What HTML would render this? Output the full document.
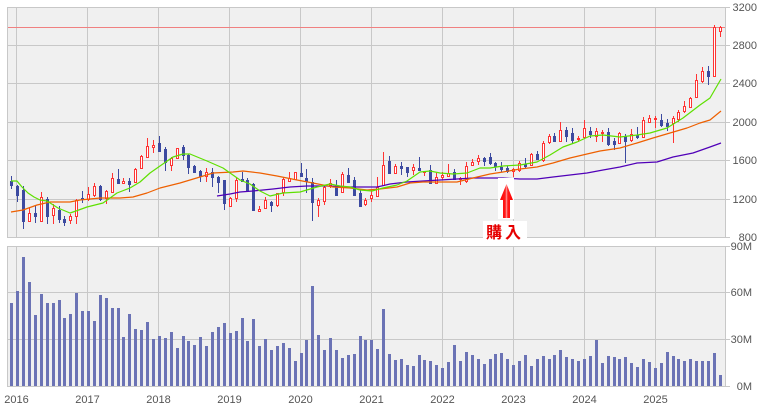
<!DOCTYPE html>
<html><head><meta charset="utf-8"><style>
html,body{margin:0;padding:0;background:#fff;}
svg{display:block;}
text{font-family:"Liberation Sans","Noto Sans CJK JP",sans-serif;}
</style></head><body>
<svg width="764" height="407" viewBox="0 0 764 407" xmlns="http://www.w3.org/2000/svg">
<defs>
<linearGradient id="ag" x1="0" x2="1" y1="0" y2="0">
<stop offset="0" stop-color="#ff0000"/><stop offset="0.4" stop-color="#ff1a1a"/><stop offset="0.5" stop-color="#ff9a9a"/><stop offset="0.6" stop-color="#ff1a1a"/><stop offset="1" stop-color="#ff0000"/>
</linearGradient>
</defs>
<rect x="7" y="7" width="718" height="230" fill="#f0f0f0"/>
<g fill="#c8c8c8" shape-rendering="crispEdges">
<rect x="7" y="45" width="718" height="1"/><rect x="7" y="83" width="718" height="1"/><rect x="7" y="122" width="718" height="1"/><rect x="7" y="160" width="718" height="1"/><rect x="7" y="199" width="718" height="1"/>
<rect x="16" y="7" width="1" height="230"/><rect x="87" y="7" width="1" height="230"/><rect x="158" y="7" width="1" height="230"/><rect x="229" y="7" width="1" height="230"/><rect x="300" y="7" width="1" height="230"/><rect x="371" y="7" width="1" height="230"/><rect x="442" y="7" width="1" height="230"/><rect x="513" y="7" width="1" height="230"/><rect x="584" y="7" width="1" height="230"/><rect x="655" y="7" width="1" height="230"/>
<rect x="725" y="7" width="5" height="1"/><rect x="725" y="45" width="5" height="1"/><rect x="725" y="83" width="5" height="1"/><rect x="725" y="122" width="5" height="1"/><rect x="725" y="160" width="5" height="1"/><rect x="725" y="199" width="5" height="1"/><rect x="725" y="237" width="5" height="1"/>
</g>
<rect x="7.5" y="7.5" width="718" height="230" fill="none" stroke="#c8c8c8" stroke-width="1"/>
<rect x="8" y="27" width="717" height="1" fill="#f08080"/>
<g fill="#3c4aa0" shape-rendering="crispEdges">
<rect x="11" y="176" width="1" height="13"/><rect x="10" y="181" width="3" height="5"/>
<rect x="17" y="185" width="1" height="17"/><rect x="16" y="186" width="3" height="10"/>
<rect x="23" y="186" width="1" height="43"/><rect x="22" y="190" width="3" height="32"/>
<rect x="35" y="206" width="1" height="17"/><rect x="34" y="213" width="3" height="4"/>
<rect x="47" y="197" width="1" height="27"/><rect x="46" y="199" width="3" height="18"/>
<rect x="59" y="206" width="1" height="17"/><rect x="58" y="210" width="3" height="10"/>
<rect x="64" y="216" width="1" height="10"/><rect x="63" y="219" width="3" height="4"/>
<rect x="82" y="191" width="1" height="12"/><rect x="81" y="198" width="3" height="2"/>
<rect x="100" y="185" width="1" height="16"/><rect x="99" y="186" width="3" height="14"/>
<rect x="118" y="169" width="1" height="15"/><rect x="117" y="179" width="3" height="5"/>
<rect x="129" y="178" width="1" height="14"/><rect x="128" y="181" width="3" height="4"/>
<rect x="159" y="136" width="1" height="16"/><rect x="158" y="143" width="3" height="9"/>
<rect x="165" y="147" width="1" height="24"/><rect x="164" y="149" width="3" height="14"/>
<rect x="183" y="145" width="1" height="15"/><rect x="182" y="147" width="3" height="9"/>
<rect x="188" y="154" width="1" height="20"/><rect x="187" y="155" width="3" height="13"/>
<rect x="194" y="165" width="1" height="8"/><rect x="193" y="166" width="3" height="7"/>
<rect x="200" y="170" width="1" height="12"/><rect x="199" y="171" width="3" height="6"/>
<rect x="212" y="168" width="1" height="19"/><rect x="211" y="172" width="3" height="6"/>
<rect x="218" y="176" width="1" height="17"/><rect x="217" y="177" width="3" height="6"/>
<rect x="224" y="180" width="1" height="30"/><rect x="223" y="180" width="3" height="24"/>
<rect x="242" y="172" width="1" height="10"/><rect x="241" y="179" width="3" height="3"/>
<rect x="247" y="178" width="1" height="13"/><rect x="246" y="180" width="3" height="11"/>
<rect x="253" y="183" width="1" height="28"/><rect x="252" y="184" width="3" height="27"/>
<rect x="271" y="201" width="1" height="11"/><rect x="270" y="202" width="3" height="4"/>
<rect x="301" y="163" width="1" height="14"/><rect x="300" y="173" width="3" height="4"/>
<rect x="306" y="169" width="1" height="24"/><rect x="305" y="178" width="3" height="4"/>
<rect x="312" y="178" width="1" height="43"/><rect x="311" y="182" width="3" height="21"/>
<rect x="336" y="180" width="1" height="16"/><rect x="335" y="185" width="3" height="11"/>
<rect x="348" y="168" width="1" height="15"/><rect x="347" y="175" width="3" height="8"/>
<rect x="354" y="177" width="1" height="19"/><rect x="353" y="180" width="3" height="16"/>
<rect x="360" y="190" width="1" height="17"/><rect x="359" y="193" width="3" height="14"/>
<rect x="389" y="156" width="1" height="18"/><rect x="388" y="161" width="3" height="13"/>
<rect x="401" y="162" width="1" height="13"/><rect x="400" y="166" width="3" height="3"/>
<rect x="407" y="167" width="1" height="10"/><rect x="406" y="167" width="3" height="6"/>
<rect x="419" y="157" width="1" height="14"/><rect x="418" y="168" width="3" height="3"/>
<rect x="430" y="165" width="1" height="19"/><rect x="429" y="170" width="3" height="14"/>
<rect x="454" y="169" width="1" height="11"/><rect x="453" y="172" width="3" height="8"/>
<rect x="484" y="157" width="1" height="9"/><rect x="483" y="158" width="3" height="4"/>
<rect x="490" y="153" width="1" height="12"/><rect x="489" y="157" width="3" height="7"/>
<rect x="495" y="162" width="1" height="9"/><rect x="494" y="163" width="3" height="4"/>
<rect x="501" y="162" width="1" height="10"/><rect x="500" y="167" width="3" height="3"/>
<rect x="507" y="166" width="1" height="7"/><rect x="506" y="168" width="3" height="4"/>
<rect x="525" y="158" width="1" height="10"/><rect x="524" y="164" width="3" height="3"/>
<rect x="537" y="151" width="1" height="9"/><rect x="536" y="154" width="3" height="6"/>
<rect x="554" y="133" width="1" height="9"/><rect x="553" y="136" width="3" height="6"/>
<rect x="566" y="127" width="1" height="15"/><rect x="565" y="130" width="3" height="7"/>
<rect x="572" y="128" width="1" height="16"/><rect x="571" y="133" width="3" height="8"/>
<rect x="590" y="127" width="1" height="11"/><rect x="589" y="131" width="3" height="4"/>
<rect x="608" y="128" width="1" height="18"/><rect x="607" y="132" width="3" height="13"/>
<rect x="614" y="138" width="1" height="12"/><rect x="613" y="141" width="3" height="4"/>
<rect x="625" y="134" width="1" height="29"/><rect x="624" y="136" width="3" height="6"/>
<rect x="637" y="127" width="1" height="12"/><rect x="636" y="135" width="3" height="3"/>
<rect x="661" y="114" width="1" height="13"/><rect x="660" y="120" width="3" height="6"/>
<rect x="667" y="119" width="1" height="12"/><rect x="666" y="123" width="3" height="4"/>
<rect x="708" y="66" width="1" height="19"/><rect x="707" y="71" width="3" height="6"/>
</g>
<g fill="#ff3333" shape-rendering="crispEdges">
<rect x="29" y="207" width="1" height="15"/><rect x="41" y="192" width="1" height="30"/><rect x="53" y="204" width="1" height="20"/><rect x="70" y="214" width="1" height="10"/><rect x="76" y="199" width="1" height="25"/><rect x="88" y="187" width="1" height="14"/><rect x="94" y="183" width="1" height="14"/><rect x="106" y="190" width="1" height="14"/><rect x="112" y="173" width="1" height="20"/><rect x="123" y="178" width="1" height="6"/><rect x="135" y="168" width="1" height="15"/><rect x="141" y="155" width="1" height="14"/><rect x="147" y="138" width="1" height="20"/><rect x="153" y="140" width="1" height="13"/><rect x="171" y="157" width="1" height="14"/><rect x="177" y="148" width="1" height="11"/><rect x="206" y="168" width="1" height="14"/><rect x="230" y="197" width="1" height="10"/><rect x="236" y="178" width="1" height="24"/><rect x="259" y="206" width="1" height="6"/><rect x="265" y="197" width="1" height="12"/><rect x="277" y="193" width="1" height="14"/><rect x="283" y="177" width="1" height="19"/><rect x="289" y="172" width="1" height="10"/><rect x="295" y="172" width="1" height="8"/><rect x="318" y="198" width="1" height="19"/><rect x="324" y="186" width="1" height="19"/><rect x="330" y="179" width="1" height="9"/><rect x="342" y="172" width="1" height="21"/><rect x="365" y="198" width="1" height="8"/><rect x="371" y="190" width="1" height="12"/><rect x="377" y="177" width="1" height="20"/><rect x="383" y="152" width="1" height="34"/><rect x="395" y="164" width="1" height="10"/><rect x="413" y="164" width="1" height="11"/><rect x="424" y="171" width="1" height="5"/><rect x="436" y="173" width="1" height="11"/><rect x="442" y="172" width="1" height="8"/><rect x="448" y="164" width="1" height="13"/><rect x="460" y="177" width="1" height="8"/><rect x="466" y="162" width="1" height="21"/><rect x="472" y="159" width="1" height="7"/><rect x="478" y="155" width="1" height="10"/><rect x="513" y="168" width="1" height="9"/><rect x="519" y="161" width="1" height="11"/><rect x="531" y="153" width="1" height="13"/><rect x="543" y="141" width="1" height="21"/><rect x="549" y="134" width="1" height="10"/><rect x="560" y="122" width="1" height="20"/><rect x="578" y="136" width="1" height="6"/><rect x="584" y="120" width="1" height="19"/><rect x="596" y="128" width="1" height="14"/><rect x="602" y="130" width="1" height="12"/><rect x="619" y="132" width="1" height="12"/><rect x="631" y="129" width="1" height="13"/><rect x="643" y="117" width="1" height="21"/><rect x="649" y="115" width="1" height="8"/><rect x="655" y="116" width="1" height="12"/><rect x="673" y="116" width="1" height="27"/><rect x="678" y="110" width="1" height="12"/><rect x="684" y="101" width="1" height="12"/><rect x="690" y="97" width="1" height="11"/><rect x="696" y="74" width="1" height="24"/><rect x="702" y="67" width="1" height="16"/><rect x="714" y="25" width="1" height="52"/><rect x="720" y="26" width="1" height="11"/>
</g>
<g fill="#ffffff" stroke="#ff3333" stroke-width="1">
<rect x="28.5" y="213.5" width="2" height="8"/><rect x="40.5" y="197.5" width="2" height="24"/><rect x="52.5" y="208.5" width="2" height="7"/><rect x="69.5" y="216.5" width="2" height="4"/><rect x="75.5" y="200.5" width="2" height="16"/><rect x="87.5" y="194.5" width="2" height="5"/><rect x="93.5" y="186.5" width="2" height="9"/><rect x="105.5" y="191.5" width="2" height="7"/><rect x="111.5" y="178.5" width="2" height="14"/><rect x="122.5" y="181.5" width="2" height="2"/><rect x="134.5" y="169.5" width="2" height="13"/><rect x="140.5" y="156.5" width="2" height="12"/><rect x="146.5" y="146.5" width="2" height="11"/><rect x="152.5" y="145.5" width="2" height="2"/><rect x="170.5" y="158.5" width="2" height="7"/><rect x="176.5" y="148.5" width="2" height="10"/><rect x="205.5" y="172.5" width="2" height="4"/><rect x="229.5" y="198.5" width="2" height="8"/><rect x="235.5" y="180.5" width="2" height="18"/><rect x="258.5" y="209.5" width="2" height="2"/><rect x="264.5" y="200.5" width="2" height="8"/><rect x="276.5" y="193.5" width="2" height="12"/><rect x="282.5" y="179.5" width="2" height="13"/><rect x="288.5" y="178.5" width="2" height="3"/><rect x="294.5" y="172.5" width="2" height="7"/><rect x="317.5" y="200.5" width="2" height="5"/><rect x="323.5" y="187.5" width="2" height="14"/><rect x="329.5" y="183.5" width="2" height="2"/><rect x="341.5" y="174.5" width="2" height="18"/><rect x="364.5" y="200.5" width="2" height="4"/><rect x="370.5" y="195.5" width="2" height="3"/><rect x="376.5" y="187.5" width="2" height="9"/><rect x="382.5" y="165.5" width="2" height="20"/><rect x="394.5" y="166.5" width="2" height="7"/><rect x="412.5" y="167.5" width="2" height="3"/><rect x="423.5" y="171.5" width="2" height="1"/><rect x="435.5" y="177.5" width="2" height="6"/><rect x="441.5" y="175.5" width="2" height="2"/><rect x="447.5" y="173.5" width="2" height="3"/><rect x="459.5" y="178.5" width="2" height="1"/><rect x="465.5" y="166.5" width="2" height="15"/><rect x="471.5" y="162.5" width="2" height="3"/><rect x="477.5" y="158.5" width="2" height="3"/><rect x="512.5" y="169.5" width="2" height="2"/><rect x="518.5" y="163.5" width="2" height="7"/><rect x="530.5" y="154.5" width="2" height="11"/><rect x="542.5" y="143.5" width="2" height="17"/><rect x="548.5" y="136.5" width="2" height="6"/><rect x="559.5" y="130.5" width="2" height="11"/><rect x="577.5" y="138.5" width="2" height="1"/><rect x="583.5" y="128.5" width="2" height="9"/><rect x="595.5" y="131.5" width="2" height="5"/><rect x="601.5" y="132.5" width="2" height="1"/><rect x="618.5" y="133.5" width="2" height="10"/><rect x="630.5" y="134.5" width="2" height="6"/><rect x="642.5" y="120.5" width="2" height="17"/><rect x="648.5" y="118.5" width="2" height="4"/><rect x="654.5" y="118.5" width="2" height="1"/><rect x="672.5" y="118.5" width="2" height="5"/><rect x="677.5" y="112.5" width="2" height="7"/><rect x="683.5" y="106.5" width="2" height="5"/><rect x="689.5" y="98.5" width="2" height="9"/><rect x="695.5" y="80.5" width="2" height="17"/><rect x="701.5" y="71.5" width="2" height="10"/><rect x="713.5" y="27.5" width="2" height="49"/><rect x="719.5" y="27.5" width="2" height="4"/>
</g>
<g fill="none" stroke-width="1.2" stroke-linejoin="round">
<polyline stroke="#5000b8" points="217,196 230,194 240,192 253,191 273,189 290,187 307,186 327,186 347,187 363,187 377,187 390,184 407,182 423,181 440,180 457,179 473,178 503,178 520,179 537,179 553,177 570,175 587,173 603,170 620,167 637,163 657,162 673,157 693,153 710,147 721,143"/>
<polyline stroke="#ee6000" points="11,212 23,210 37,205 50,202 70,202 80,200 100,198 120,198 133,197 147,193 160,188 180,183 200,177 213,173 233,172 243,171 260,173 277,176 297,180 313,183 333,187 350,188 367,190 380,189 397,187 410,183 423,182 457,182 473,178 490,174 503,172 520,169 537,167 553,163 570,158 587,154 600,151 620,148 637,143 653,138 670,133 687,128 700,123 710,120 721,111"/>
<polyline stroke="#5ee000" points="11,181 17,181 22,187 28,193 34,197 40,200 47,201 58,208 70,213 76,211 87,207 103,203 117,193 130,188 140,182 150,173 160,166 173,157 183,154 190,154 207,161 223,168 240,180 250,184 260,191 270,196 283,193 300,192 317,187 330,184 340,186 350,187 360,190 372,191 383,188 397,185 407,181 420,172 430,171 440,173 453,174 467,173 480,168 490,168 503,166 520,165 537,162 550,155 563,147 577,142 590,136 603,135 620,137 637,135 650,133 667,128 683,118 700,105 710,98 721,79"/>
</g>
<rect x="498" y="178" width="16" height="41" fill="#ffffff"/>
<polygon points="506.5,184 500,200 503,200 503,218 510,218 510,200 513,200" fill="url(#ag)"/>
<rect x="483" y="221" width="44" height="19" fill="#ffffff"/>
<text x="505" y="238" text-anchor="middle" font-size="16" font-weight="bold" fill="#e60000" letter-spacing="3">購入</text>
<g font-size="11" fill="#555" text-anchor="end">
<text x="757" y="11">3200</text><text x="757" y="49">2800</text><text x="757" y="87">2400</text><text x="757" y="126">2000</text><text x="757" y="164">1600</text><text x="757" y="203">1200</text><text x="757" y="241">800</text>
</g>
<rect x="7" y="246" width="718" height="140" fill="#f0f0f0"/>
<g fill="#c8c8c8" shape-rendering="crispEdges">
<rect x="7" y="292" width="718" height="1"/><rect x="7" y="339" width="718" height="1"/>
<rect x="16" y="246" width="1" height="140"/><rect x="87" y="246" width="1" height="140"/><rect x="158" y="246" width="1" height="140"/><rect x="229" y="246" width="1" height="140"/><rect x="300" y="246" width="1" height="140"/><rect x="371" y="246" width="1" height="140"/><rect x="442" y="246" width="1" height="140"/><rect x="513" y="246" width="1" height="140"/><rect x="584" y="246" width="1" height="140"/><rect x="655" y="246" width="1" height="140"/>
<rect x="725" y="246" width="5" height="1"/><rect x="725" y="292" width="5" height="1"/><rect x="725" y="339" width="5" height="1"/><rect x="725" y="386" width="5" height="1"/>
</g>
<g fill="#6b73b5" shape-rendering="crispEdges">
<rect x="10" y="303" width="3" height="83"/><rect x="16" y="291" width="3" height="95"/><rect x="22" y="257" width="3" height="129"/><rect x="28" y="282" width="3" height="104"/><rect x="34" y="315" width="3" height="71"/><rect x="40" y="294" width="3" height="92"/><rect x="46" y="303" width="3" height="83"/><rect x="52" y="303" width="3" height="83"/><rect x="58" y="300" width="3" height="86"/><rect x="63" y="318" width="3" height="68"/><rect x="69" y="314" width="3" height="72"/><rect x="75" y="293" width="3" height="93"/><rect x="81" y="311" width="3" height="75"/><rect x="87" y="311" width="3" height="75"/><rect x="93" y="321" width="3" height="65"/><rect x="99" y="295" width="3" height="91"/><rect x="105" y="298" width="3" height="88"/><rect x="111" y="308" width="3" height="78"/><rect x="117" y="308" width="3" height="78"/><rect x="122" y="337" width="3" height="49"/><rect x="128" y="314" width="3" height="72"/><rect x="134" y="329" width="3" height="57"/><rect x="140" y="330" width="3" height="56"/><rect x="146" y="322" width="3" height="64"/><rect x="152" y="339" width="3" height="47"/><rect x="158" y="336" width="3" height="50"/><rect x="164" y="338" width="3" height="48"/><rect x="170" y="332" width="3" height="54"/><rect x="176" y="348" width="3" height="38"/><rect x="182" y="336" width="3" height="50"/><rect x="187" y="341" width="3" height="45"/><rect x="193" y="345" width="3" height="41"/><rect x="199" y="337" width="3" height="49"/><rect x="205" y="346" width="3" height="40"/><rect x="211" y="332" width="3" height="54"/><rect x="217" y="327" width="3" height="59"/><rect x="223" y="323" width="3" height="63"/><rect x="229" y="333" width="3" height="53"/><rect x="235" y="331" width="3" height="55"/><rect x="241" y="318" width="3" height="68"/><rect x="246" y="341" width="3" height="45"/><rect x="252" y="319" width="3" height="67"/><rect x="258" y="346" width="3" height="40"/><rect x="264" y="339" width="3" height="47"/><rect x="270" y="350" width="3" height="36"/><rect x="276" y="346" width="3" height="40"/><rect x="282" y="343" width="3" height="43"/><rect x="288" y="348" width="3" height="38"/><rect x="294" y="361" width="3" height="25"/><rect x="300" y="353" width="3" height="33"/><rect x="305" y="340" width="3" height="46"/><rect x="311" y="286" width="3" height="100"/><rect x="317" y="335" width="3" height="51"/><rect x="323" y="350" width="3" height="36"/><rect x="329" y="338" width="3" height="48"/><rect x="335" y="350" width="3" height="36"/><rect x="341" y="358" width="3" height="28"/><rect x="347" y="355" width="3" height="31"/><rect x="353" y="354" width="3" height="32"/><rect x="359" y="336" width="3" height="50"/><rect x="364" y="340" width="3" height="46"/><rect x="370" y="340" width="3" height="46"/><rect x="376" y="349" width="3" height="37"/><rect x="382" y="309" width="3" height="77"/><rect x="388" y="354" width="3" height="32"/><rect x="394" y="360" width="3" height="26"/><rect x="400" y="359" width="3" height="27"/><rect x="406" y="365" width="3" height="21"/><rect x="412" y="366" width="3" height="20"/><rect x="418" y="355" width="3" height="31"/><rect x="423" y="360" width="3" height="26"/><rect x="429" y="361" width="3" height="25"/><rect x="435" y="365" width="3" height="21"/><rect x="441" y="368" width="3" height="18"/><rect x="447" y="362" width="3" height="24"/><rect x="453" y="345" width="3" height="41"/><rect x="459" y="361" width="3" height="25"/><rect x="465" y="352" width="3" height="34"/><rect x="471" y="355" width="3" height="31"/><rect x="477" y="359" width="3" height="27"/><rect x="483" y="364" width="3" height="22"/><rect x="489" y="359" width="3" height="27"/><rect x="494" y="354" width="3" height="32"/><rect x="500" y="353" width="3" height="33"/><rect x="506" y="359" width="3" height="27"/><rect x="512" y="365" width="3" height="21"/><rect x="518" y="361" width="3" height="25"/><rect x="524" y="355" width="3" height="31"/><rect x="530" y="366" width="3" height="20"/><rect x="536" y="359" width="3" height="27"/><rect x="542" y="356" width="3" height="30"/><rect x="548" y="359" width="3" height="27"/><rect x="553" y="355" width="3" height="31"/><rect x="559" y="350" width="3" height="36"/><rect x="565" y="357" width="3" height="29"/><rect x="571" y="359" width="3" height="27"/><rect x="577" y="361" width="3" height="25"/><rect x="583" y="359" width="3" height="27"/><rect x="589" y="356" width="3" height="30"/><rect x="595" y="340" width="3" height="46"/><rect x="601" y="363" width="3" height="23"/><rect x="607" y="356" width="3" height="30"/><rect x="613" y="357" width="3" height="29"/><rect x="618" y="359" width="3" height="27"/><rect x="624" y="357" width="3" height="29"/><rect x="630" y="363" width="3" height="23"/><rect x="636" y="367" width="3" height="19"/><rect x="642" y="359" width="3" height="27"/><rect x="648" y="362" width="3" height="24"/><rect x="654" y="368" width="3" height="18"/><rect x="660" y="363" width="3" height="23"/><rect x="666" y="352" width="3" height="34"/><rect x="672" y="356" width="3" height="30"/><rect x="677" y="359" width="3" height="27"/><rect x="683" y="361" width="3" height="25"/><rect x="689" y="359" width="3" height="27"/><rect x="695" y="361" width="3" height="25"/><rect x="701" y="361" width="3" height="25"/><rect x="707" y="361" width="3" height="25"/><rect x="713" y="353" width="3" height="33"/><rect x="719" y="375" width="3" height="11"/>
</g>
<rect x="7.5" y="246.5" width="718" height="140" fill="none" stroke="#c8c8c8" stroke-width="1"/>
<g font-size="11" fill="#555" text-anchor="end">
<text x="752" y="250">90M</text><text x="752" y="296">60M</text><text x="752" y="343">30M</text><text x="752" y="390">0M</text>
</g>
<g font-size="11" fill="#555" text-anchor="middle">
<text x="16.5" y="403">2016</text><text x="87.5" y="403">2017</text><text x="158.5" y="403">2018</text><text x="229.5" y="403">2019</text><text x="300.5" y="403">2020</text><text x="371.5" y="403">2021</text><text x="442.5" y="403">2022</text><text x="513.5" y="403">2023</text><text x="584.5" y="403">2024</text><text x="655.5" y="403">2025</text>
</g>
</svg>
</body></html>
